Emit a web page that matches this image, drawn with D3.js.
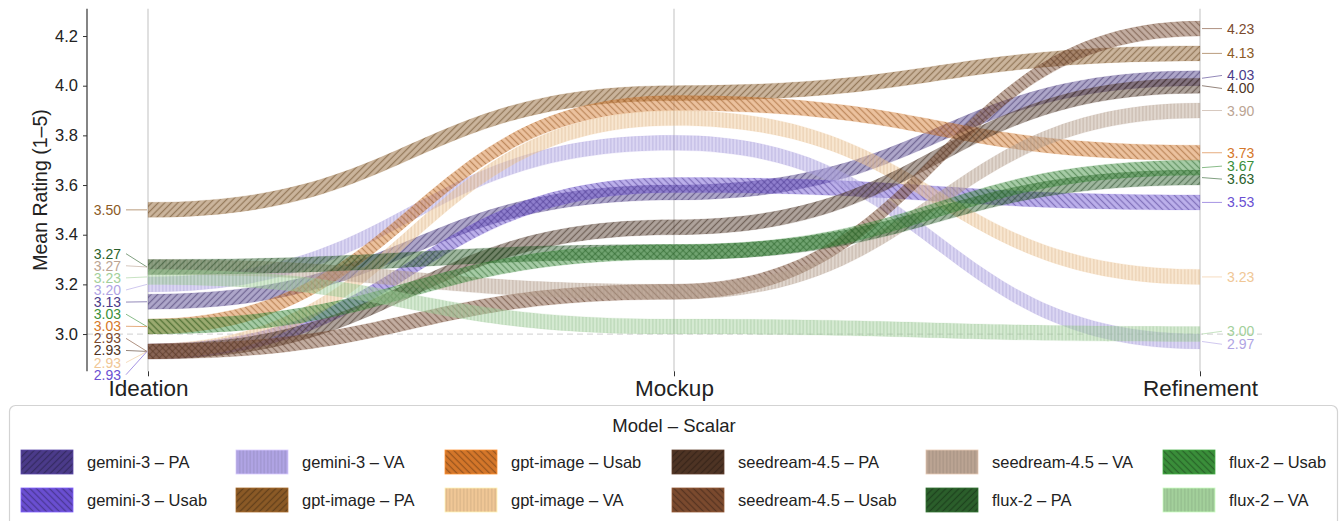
<!DOCTYPE html>
<html><head><meta charset="utf-8">
<script src="https://cdn.jsdelivr.net/npm/d3@7"></script>
<style>
body{margin:0;background:#fff;}
svg{display:block;font-family:"Helvetica Neue",Helvetica,Arial,"Liberation Sans",sans-serif;}
</style>
</head><body>
<svg id="chart" width="1342" height="521"></svg>
<script>
// ---------- data ----------
const stages = ["Ideation", "Mockup", "Refinement"];
const models = ["gemini-3", "gpt-image", "seedream-4.5", "flux-2"];
const scalars = ["PA", "Usab", "VA"];

const gemini3_PA     = [3.13, 3.57, 4.03];
const gemini3_Usab   = [2.93, 3.60, 3.53];
const gemini3_VA     = [3.20, 3.77, 2.97];
const gptImage_PA    = [3.50, 3.97, 4.13];
const gptImage_Usab  = [3.03, 3.93, 3.73];
const gptImage_VA    = [2.93, 3.87, 3.23];
const seedream_PA    = [2.93, 3.43, 4.00];
const seedream_Usab  = [2.93, 3.17, 4.23];
const seedream_VA    = [3.27, 3.17, 3.90];
const flux2_PA       = [3.27, 3.33, 3.63];
const flux2_Usab     = [3.03, 3.33, 3.67];
const flux2_VA       = [3.23, 3.03, 3.00];

const yTicks = [3.0, 3.2, 3.4, 3.6, 3.8, 4.0, 4.2];

const seriesValues = [
  gemini3_PA, gemini3_Usab, gemini3_VA,
  gptImage_PA, gptImage_Usab, gptImage_VA,
  seedream_PA, seedream_Usab, seedream_VA,
  flux2_PA, flux2_Usab, flux2_VA
];
const seriesColors = [
  "#4b3b8a", "#6a4fd2", "#b0a4e4",
  "#8b5a26", "#d5772a", "#f0c796",
  "#4e3424", "#7b4a2e", "#bba493",
  "#2b5f2b", "#3a8f3a", "#a3d09b"
];

const series = [];
models.forEach((m, mi) => scalars.forEach((s, si) => {
  const i = mi * 3 + si;
  series.push({ i, model: m, scalar: s, name: `${m} – ${s}`, values: seriesValues[i], color: seriesColors[i] });
}));

// ---------- layout ----------
const svg = d3.select("#chart");
const allVals = seriesValues.flat();
const y = d3.scaleLinear()
  .domain([d3.min(allVals) - 0.08, d3.max(allVals) + 0.08])
  .range([371.3, 8.7]);
const x = d3.scalePoint().domain(stages).range([148, 1200]);
const axisX = 87;
const bandH = 15;
const fmt = d3.format(".2f");

// ---------- patterns ----------
const defs = svg.append("defs");
function makePattern(id, s, opaque) {
  const c = d3.color(s.color);
  if (s.scalar === "VA") {
    const w = 3.5;
    const p = defs.append("pattern").attr("id", id).attr("patternUnits", "userSpaceOnUse")
      .attr("width", w).attr("height", w);
    p.append("rect").attr("width", w).attr("height", w).attr("fill", s.color)
      .attr("fill-opacity", opaque ? 1 : 0.45);
    p.append("line").attr("x1", w / 2).attr("x2", w / 2).attr("y1", 0).attr("y2", w)
      .attr("stroke", c.darker(0.35)).attr("stroke-width", 1)
      .attr("stroke-opacity", opaque ? 1 : 0.5);
  } else {
    const w = 4.6;
    const p = defs.append("pattern").attr("id", id).attr("patternUnits", "userSpaceOnUse")
      .attr("width", w).attr("height", w)
      .attr("patternTransform", `rotate(${s.scalar === "PA" ? 45 : -45})`);
    p.append("rect").attr("width", w).attr("height", w).attr("fill", s.color)
      .attr("fill-opacity", opaque ? 1 : 0.45);
    p.append("line").attr("x1", w / 2).attr("x2", w / 2).attr("y1", 0).attr("y2", w)
      .attr("stroke", c.darker(1.1)).attr("stroke-width", 1.3)
      .attr("stroke-opacity", opaque ? 0.9 : 0.5);
  }
}
series.forEach(s => { makePattern("rib" + s.i, s, false); makePattern("leg" + s.i, s, true); });

// ---------- grid & axes ----------
const plotTop = y.range()[1], plotBot = y.range()[0];
svg.append("g").selectAll("line").data(stages).join("line")
  .attr("x1", d => x(d)).attr("x2", d => x(d))
  .attr("y1", plotTop).attr("y2", plotBot)
  .attr("stroke", "#cfcfcf").attr("stroke-width", 1.3);

svg.append("line")
  .attr("x1", axisX).attr("x2", 1262).attr("y1", y(3.0)).attr("y2", y(3.0))
  .attr("stroke", "#d9d9d9").attr("stroke-width", 1.2).attr("stroke-dasharray", "6,4");

const yAxis = svg.append("g").attr("transform", `translate(${axisX},0)`)
  .call(d3.axisLeft(y).tickValues(yTicks).tickFormat(d3.format(".1f")).tickSize(4).tickPadding(5));
yAxis.select(".domain").attr("stroke", "#333").attr("stroke-width", 1.2).attr("d", `M0,${plotTop}V${plotBot}`);
yAxis.selectAll(".tick line").attr("stroke", "#333");
yAxis.selectAll(".tick text").attr("font-size", 16.5).attr("fill", "#222").attr("font-family", null);

const xAxis = svg.append("g").attr("transform", `translate(0,${plotBot})`)
  .call(d3.axisBottom(x).tickSize(5).tickPadding(8));
xAxis.select(".domain").remove();
xAxis.selectAll(".tick line").attr("stroke", "#333");
xAxis.selectAll(".tick text").attr("font-size", 22.5).attr("fill", "#222").attr("font-family", null)
  .attr("dy", "0.5em");

svg.append("text")
  .attr("transform", `translate(40,${(plotTop + plotBot) / 2}) rotate(-90)`)
  .attr("text-anchor", "middle").attr("dominant-baseline", "central")
  .attr("font-size", 19.5).attr("fill", "#222")
  .text("Mean Rating (1–5)");

// ---------- ribbons ----------
const area = d3.area()
  .x((d, k) => x(stages[k]))
  .y0(d => y(d) + bandH / 2)
  .y1(d => y(d) - bandH / 2)
  .curve(d3.curveBumpX);

svg.append("g").selectAll("path").data(series).join("path")
  .attr("d", s => area(s.values))
  .attr("fill", s => `url(#rib${s.i})`)
  .attr("stroke", s => s.color).attr("stroke-opacity", 0.18).attr("stroke-width", 0.8);

// ---------- end labels ----------
function dodge(items, gap) {
  items.sort((a, b) => a.target - b.target || a.order - b.order);
  let groups = items.map(d => ({ items: [d] }));
  const place = g => {
    const m = d3.mean(g.items, d => d.target);
    g.top = m - (g.items.length - 1) * gap / 2;
  };
  groups.forEach(place);
  let merged = true;
  while (merged) {
    merged = false;
    for (let k = 1; k < groups.length; k++) {
      const a = groups[k - 1], b = groups[k];
      if (b.top < a.top + a.items.length * gap) {
        a.items = a.items.concat(b.items);
        place(a);
        groups.splice(k, 1);
        merged = true;
        break;
      }
    }
  }
  groups.forEach(g => g.items.forEach((d, j) => d.pos = g.top + j * gap));
  return items;
}

function endLabels(stageIdx, side, gap) {
  const xs = x(stages[stageIdx]);
  const items = series.map(s => ({ s, v: s.values[stageIdx], target: y(s.values[stageIdx]), order: -s.i }));
  dodge(items, gap);
  const g = svg.append("g");
  items.forEach(d => {
    const lx1 = side === "left" ? xs - 22 : xs + 2;
    const lx2 = side === "left" ? xs - 1 : xs + 22;
    g.append("line")
      .attr("x1", lx1).attr("x2", lx2)
      .attr("y1", side === "left" ? d.pos : d.target)
      .attr("y2", side === "left" ? d.target : d.pos)
      .attr("stroke", d.s.color).attr("stroke-opacity", 0.6).attr("stroke-width", 1);
    g.append("text")
      .attr("x", side === "left" ? xs - 27 : xs + 27)
      .attr("y", d.pos)
      .attr("text-anchor", side === "left" ? "end" : "start")
      .attr("dominant-baseline", "central")
      .attr("font-size", 14).attr("fill", d.s.color)
      .text(fmt(d.v));
  });
}
endLabels(0, "left", 12.1);
endLabels(2, "right", 13);

// ---------- legend ----------
const legend = svg.append("g");
legend.append("rect").attr("x", 9.5).attr("y", 405.5).attr("width", 1328).attr("height", 130)
  .attr("rx", 6).attr("fill", "#fff").attr("stroke", "#d3d3d3").attr("stroke-width", 1.2);
legend.append("text").attr("x", 674).attr("y", 425).attr("text-anchor", "middle")
  .attr("dominant-baseline", "central").attr("font-size", 18.5).attr("fill", "#222")
  .text("Model – Scalar");
const colX = [21, 236, 445, 672, 926, 1163];
const rowY = [450, 488];
series.forEach(s => {
  const cx = colX[Math.floor(s.i / 2)], ry = rowY[s.i % 2];
  legend.append("rect").attr("x", cx).attr("y", ry).attr("width", 52).attr("height", 24)
    .attr("fill", `url(#leg${s.i})`).attr("stroke", d3.color(s.color).brighter(0.6)).attr("stroke-width", 0.8);
  legend.append("text").attr("x", cx + 66).attr("y", ry + 12)
    .attr("dominant-baseline", "central").attr("font-size", 16.5).attr("fill", "#222")
    .text(s.name);
});
</script>
</body></html>
